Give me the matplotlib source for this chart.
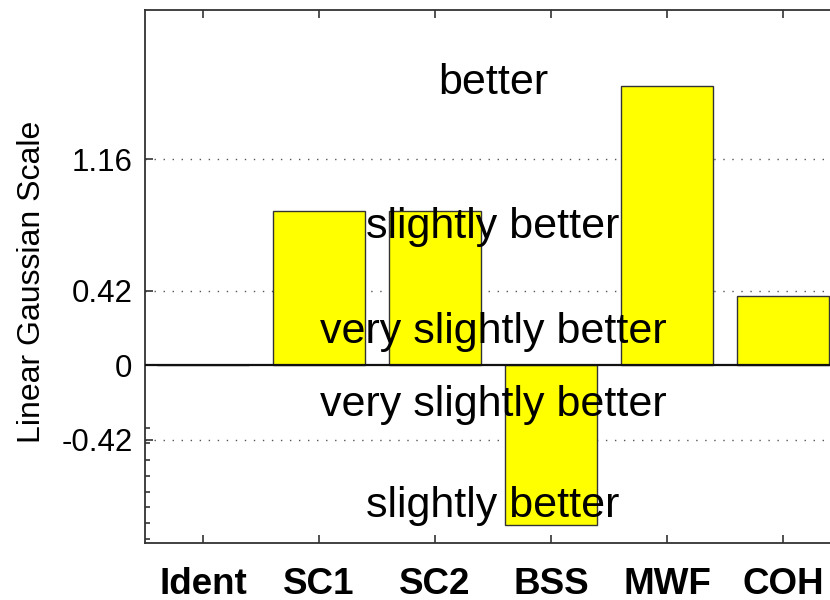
import matplotlib
matplotlib.use("Agg")
import matplotlib.pyplot as plt
import numpy as np

plt.rcParams['font.family'] = ['Liberation Sans', 'DejaVu Sans']

categories = ["Ident", "SC1", "SC2", "BSS", "MWF", "COH"]
values = [0.0, 0.867, 0.867, -0.897, 1.57, 0.39]
major_ticks = [-0.42, 0, 0.42, 1.16]
major_labels = ["-0.42", "0", "0.42", "1.16"]
minor_ticks = [-0.353, -0.439, -0.531, -0.625, -0.713, -0.799, -0.887, -0.977]
annot_texts = ["better", "slightly better", "very slightly better",
               "very slightly better", "slightly better"]
annot_y = [1.527, 0.716, 0.125, -0.287, -0.855]

fig = plt.figure(figsize=(8.3, 6), dpi=100)
ax = fig.add_axes([145/830, 57/600, (841-145)/830, (590-57)/600])

x = np.arange(1, len(categories) + 1)
ax.bar(x, values, width=0.8, color='#ffff00', edgecolor='#333333',
       linewidth=1.0, zorder=3)
ax.axhline(0, color='#111111', linewidth=1.6, zorder=6)

for yv in [1.16, 0.42, -0.42]:
    ax.axhline(yv, color='#555555', linewidth=1.0, linestyle=(0, (1, 5.5)),
               zorder=1)

for t, yv in zip(annot_texts, annot_y):
    ax.text(3.5, yv, t, ha='center', va='baseline', fontsize=31,
            color='black', zorder=5)

ax.set_xlim(0.5, 6.5)
ax.set_ylim(-1.0, 2.0)
ax.set_xticks(x)
ax.set_xticklabels(categories, fontsize=26.5, fontweight='bold')
ax.set_yticks(major_ticks)
ax.set_yticklabels(major_labels, fontsize=22.5)
ax.set_yticks(minor_ticks, minor=True)
ax.tick_params(axis='x', which='major', direction='in', length=6, width=1.2,
               top=True, pad=17, color='#333333')
ax.tick_params(axis='y', which='major', direction='in', length=6, width=1.2,
               pad=9, color='#333333')
ax.tick_params(axis='y', which='minor', direction='in', length=3.5, width=1.2,
               color='#333333')
ax.set_ylabel("Linear Gaussian Scale", fontsize=23)
ax.yaxis.set_label_coords(-(145-47)/696, 0.489)
for s in ax.spines.values():
    s.set_color('#333333')
    s.set_linewidth(1.3)

fig.savefig("out.png", dpi=100)
